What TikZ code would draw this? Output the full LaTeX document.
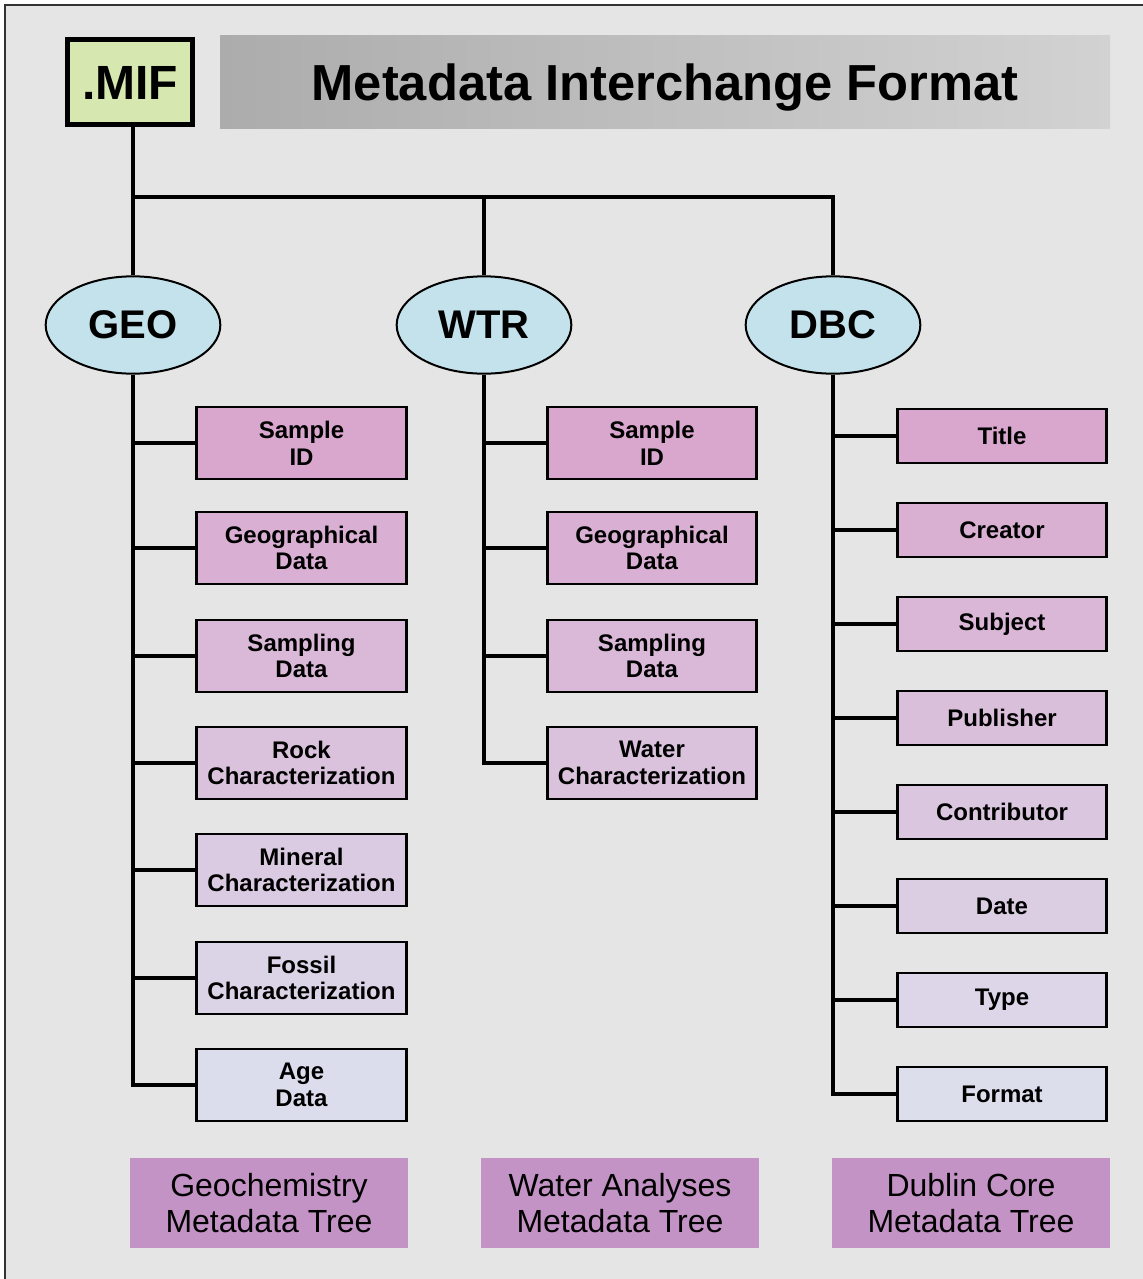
\documentclass[tikz,border=0pt]{standalone}
\usepackage{fontspec}
\setmainfont{Liberation Sans}
\usetikzlibrary{shapes.geometric}
\definecolor{bgray}{RGB}{229,229,229}
\definecolor{framec}{RGB}{50,50,50}
\definecolor{mifc}{RGB}{214,232,176}
\definecolor{ellc}{RGB}{196,226,236}
\definecolor{pinkA}{RGB}{217,167,206}
\definecolor{lavB}{RGB}{220,222,236}
\definecolor{labc}{RGB}{196,147,198}
\definecolor{barL}{RGB}{172,172,172}
\definecolor{barR}{RGB}{210,210,210}
\tikzset{
  itembox/.style={draw=black, line width=2.2pt, minimum width=157pt, minimum height=54pt, inner sep=0pt, align=center, font=\bfseries\fontsize{18}{20}\selectfont},
  dcbox/.style={itembox, minimum height=40.5pt},
  treeell/.style={ellipse, draw=black, line width=1.5pt, fill=ellc, minimum width=131pt, minimum height=73pt, inner sep=0pt, font=\bfseries\fontsize{30}{30}\selectfont},
  trunk/.style={line width=3.7pt},
  branch/.style={line width=3pt},
  treelabel/.style={fill=labc, minimum width=208.5pt, minimum height=67.5pt, inner sep=0pt, align=center, font=\fontsize{24}{27}\selectfont}
}
\begin{document}
\begin{tikzpicture}[x=0.75pt,y=-0.75pt]
\useasboundingbox (0,0) rectangle (1143,1279);
\begin{scope}
\clip (0,0) rectangle (1143,1279);
\fill[white] (0,0) rectangle (1143,1279);
\draw[draw=framec, line width=2.2pt, fill=bgray] (5,5) rectangle (1250,1400);
\end{scope}
% title
\node[minimum width=667.5pt, minimum height=70pt, inner sep=0pt, left color=barL, right color=barR, text height=27pt, text depth=0pt, font=\bfseries\fontsize{38}{38}\selectfont] (title) at (665,82) {Metadata Interchange Format};
\node[draw=black, line width=3.4pt, fill=mifc, minimum width=94pt, minimum height=64pt, inner sep=0pt, text height=26pt, text depth=0pt, font=\bfseries\fontsize{36}{36}\selectfont] (mif) at (130,82) {.MIF};
% ellipses
\node[treeell] (geo) at (133,325) {GEO};
\node[treeell] (wtr) at (484,325) {WTR};
\node[treeell] (dbc) at (833,325) {DBC};
\coordinate (bus) at (0,197);
% GEO items
\node[itembox, fill=lavB!0!pinkA]  (g1) at (301.5,443) {Sample\\ID};
\node[itembox, fill=lavB!16!pinkA] (g2) at (301.5,548) {Geographical\\Data};
\node[itembox, fill=lavB!33!pinkA] (g3) at (301.5,656) {Sampling\\Data};
\node[itembox, fill=lavB!49!pinkA] (g4) at (301.5,763) {Rock\\Characterization};
\node[itembox, fill=lavB!66!pinkA] (g5) at (301.5,870) {Mineral\\Characterization};
\node[itembox, fill=lavB!82!pinkA] (g6) at (301.5,978) {Fossil\\Characterization};
\node[itembox, fill=lavB!99!pinkA] (g7) at (301.5,1085) {Age\\Data};
% WTR items
\node[itembox, fill=lavB!0!pinkA]  (w1) at (652,443) {Sample\\ID};
\node[itembox, fill=lavB!16!pinkA] (w2) at (652,548) {Geographical\\Data};
\node[itembox, fill=lavB!33!pinkA] (w3) at (652,656) {Sampling\\Data};
\node[itembox, fill=lavB!49!pinkA] (w4) at (652,763) {Water\\Characterization};
% DBC items
\node[dcbox, fill=lavB!0!pinkA]   (d1) at (1002,436) {Title};
\node[dcbox, fill=lavB!14!pinkA]  (d2) at (1002,530) {Creator};
\node[dcbox, fill=lavB!29!pinkA]  (d3) at (1002,624) {Subject};
\node[dcbox, fill=lavB!43!pinkA]  (d4) at (1002,718) {Publisher};
\node[dcbox, fill=lavB!57!pinkA]  (d5) at (1002,812) {Contributor};
\node[dcbox, fill=lavB!71!pinkA]  (d6) at (1002,906) {Date};
\node[dcbox, fill=lavB!86!pinkA]  (d7) at (1002,1000) {Type};
\node[dcbox, fill=lavB!100!pinkA] (d8) at (1002,1094) {Format};
% bottom labels
\node[treelabel] (lg) at (269,1203) {Geochemistry\\Metadata Tree};
\node[treelabel] (lw) at (620,1203) {Water Analyses\\Metadata Tree};
\node[treelabel] (ld) at (971,1203) {Dublin Core\\Metadata Tree};
% connectors top
\draw[trunk] (mif.south -| geo.north) -- (geo.north);
\draw[trunk] (geo.north |- bus) -| (wtr.north);
\draw[trunk] (wtr.north |- bus) -| (dbc.north);
% GEO tree
\draw[trunk] (geo.south) |- (g7.west);
\foreach \n in {g1,g2,g3,g4,g5,g6} \draw[branch] (geo.south |- \n.west) -- (\n.west);
% WTR tree
\draw[trunk] (wtr.south) |- (w4.west);
\foreach \n in {w1,w2,w3} \draw[branch] (wtr.south |- \n.west) -- (\n.west);
% DBC tree
\draw[trunk] (dbc.south) |- (d8.west);
\foreach \n in {d1,d2,d3,d4,d5,d6,d7} \draw[branch] (dbc.south |- \n.west) -- (\n.west);
\end{tikzpicture}
\end{document}
